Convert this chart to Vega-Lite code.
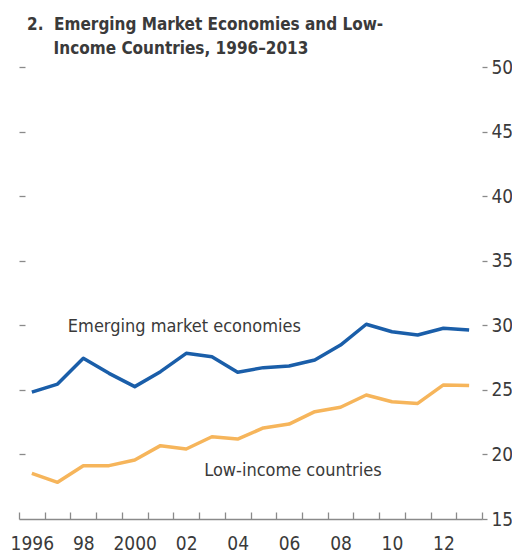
{
  "$schema": "https://vega.github.io/schema/vega-lite/v6.json",
  "width": 463,
  "height": 452,
  "autosize": "none",
  "padding": {"left": 19, "top": 67, "right": 30, "bottom": 39},
  "background": "white",
  "config": {"view": {"stroke": null}, "font": "DejaVu Sans Condensed, Roboto, sans-serif"},
  "title": {
    "text": ["2.\u00a0\u00a0Emerging Market Economies and Low-", "\u200b\u00a0\u00a0\u00a0\u00a0\u00a0Income Countries, 1996–2013"],
    "anchor": "start",
    "frame": "group",
    "font": "DejaVu Sans Condensed, Roboto, sans-serif",
    "fontWeight": "bold",
    "fontSize": 17,
    "lineHeight": 24,
    "color": "#3a3a3a",
    "offset": 0,
    "dx": 8
  },
  "data": {"values": [
    {"year": 1996, "series": "Emerging market economies", "value": 24.83},
    {"year": 1997, "series": "Emerging market economies", "value": 25.45},
    {"year": 1998, "series": "Emerging market economies", "value": 27.44},
    {"year": 1999, "series": "Emerging market economies", "value": 26.28},
    {"year": 2000, "series": "Emerging market economies", "value": 25.25},
    {"year": 2001, "series": "Emerging market economies", "value": 26.41},
    {"year": 2002, "series": "Emerging market economies", "value": 27.83},
    {"year": 2003, "series": "Emerging market economies", "value": 27.57},
    {"year": 2004, "series": "Emerging market economies", "value": 26.36},
    {"year": 2005, "series": "Emerging market economies", "value": 26.72},
    {"year": 2006, "series": "Emerging market economies", "value": 26.85},
    {"year": 2007, "series": "Emerging market economies", "value": 27.31},
    {"year": 2008, "series": "Emerging market economies", "value": 28.47},
    {"year": 2009, "series": "Emerging market economies", "value": 30.08},
    {"year": 2010, "series": "Emerging market economies", "value": 29.5},
    {"year": 2011, "series": "Emerging market economies", "value": 29.25},
    {"year": 2012, "series": "Emerging market economies", "value": 29.77},
    {"year": 2013, "series": "Emerging market economies", "value": 29.64},
    {"year": 1996, "series": "Low-income countries", "value": 18.54},
    {"year": 1997, "series": "Low-income countries", "value": 17.84},
    {"year": 1998, "series": "Low-income countries", "value": 19.13},
    {"year": 1999, "series": "Low-income countries", "value": 19.13},
    {"year": 2000, "series": "Low-income countries", "value": 19.57},
    {"year": 2001, "series": "Low-income countries", "value": 20.68},
    {"year": 2002, "series": "Low-income countries", "value": 20.42},
    {"year": 2003, "series": "Low-income countries", "value": 21.37},
    {"year": 2004, "series": "Low-income countries", "value": 21.19},
    {"year": 2005, "series": "Low-income countries", "value": 22.05},
    {"year": 2006, "series": "Low-income countries", "value": 22.35},
    {"year": 2007, "series": "Low-income countries", "value": 23.31},
    {"year": 2008, "series": "Low-income countries", "value": 23.65},
    {"year": 2009, "series": "Low-income countries", "value": 24.6},
    {"year": 2010, "series": "Low-income countries", "value": 24.08},
    {"year": 2011, "series": "Low-income countries", "value": 23.95},
    {"year": 2012, "series": "Low-income countries", "value": 25.38},
    {"year": 2013, "series": "Low-income countries", "value": 25.33}
  ]},
  "resolve": {"axis": {"y": "independent"}},
  "layer": [
    {
      "mark": {"type": "line", "strokeWidth": 3.5, "strokeJoin": "round"},
      "encoding": {
        "x": {
          "field": "year",
          "type": "ordinal",
          "scale": {"type": "band", "paddingInner": 0, "paddingOuter": 0},
          "axis": {
            "title": null,
            "orient": "bottom",
            "tickBand": "extent",
            "tickSize": -7,
            "tickColor": "#8a8a8a",
            "tickWidth": 1.3,
            "domainColor": "#8a8a8a",
            "domainWidth": 1.3,
            "labelPadding": 22,
            "labelAngle": 0,
            "labelOverlap": false,
            "labelFont": "DejaVu Sans Condensed, Roboto, sans-serif",
            "labelFontSize": 19,
            "labelColor": "#3a3a3a",
            "labelExpr": "datum.value % 2 != 0 ? '' : ((datum.value == 1996 || datum.value == 2000) ? '' + datum.value : substring('' + datum.value, 2, 4))"
          }
        },
        "y": {
          "field": "value",
          "type": "quantitative",
          "scale": {"domain": [15, 50], "nice": false, "zero": false},
          "axis": {
            "title": null,
            "orient": "right",
            "values": [15, 20, 25, 30, 35, 40, 45, 50],
            "domain": false,
            "grid": false,
            "offset": 0,
            "tickSize": 5,
            "tickColor": "#8a8a8a",
            "tickWidth": 1.3,
            "labelPadding": 4,
            "labelFont": "DejaVu Sans Condensed, Roboto, sans-serif",
            "labelFontSize": 19,
            "labelColor": "#3a3a3a"
          }
        },
        "color": {
          "field": "series",
          "type": "nominal",
          "scale": {"domain": ["Emerging market economies", "Low-income countries"], "range": ["#1a5ea9", "#f6b55b"]},
          "legend": null
        }
      }
    },
    {
      "data": {"values": [{"label": "Emerging market economies", "year": 1997, "value": 29.9}]},
      "mark": {"type": "text", "align": "left", "baseline": "middle", "font": "DejaVu Sans Condensed, Roboto, sans-serif", "fontSize": 18, "color": "#3a3a3a"},
      "encoding": {
        "x": {"field": "year", "type": "ordinal", "bandPosition": 0.9},
        "y": {
          "field": "value",
          "type": "quantitative",
          "axis": {
            "title": null,
            "orient": "left",
            "values": [20, 25, 30, 35, 40, 45, 50],
            "domain": false,
            "grid": false,
            "labels": false,
            "offset": -6,
            "tickSize": 6,
            "tickColor": "#8a8a8a",
            "tickWidth": 1.3
          }
        },
        "text": {"field": "label"}
      }
    },
    {
      "data": {"values": [{"label": "Low-income countries", "year": 2003, "value": 18.7}]},
      "mark": {"type": "text", "align": "left", "baseline": "middle", "font": "DejaVu Sans Condensed, Roboto, sans-serif", "fontSize": 18, "color": "#3a3a3a"},
      "encoding": {
        "x": {"field": "year", "type": "ordinal", "bandPosition": 0.2},
        "y": {"field": "value", "type": "quantitative", "axis": null},
        "text": {"field": "label"}
      }
    }
  ]
}
